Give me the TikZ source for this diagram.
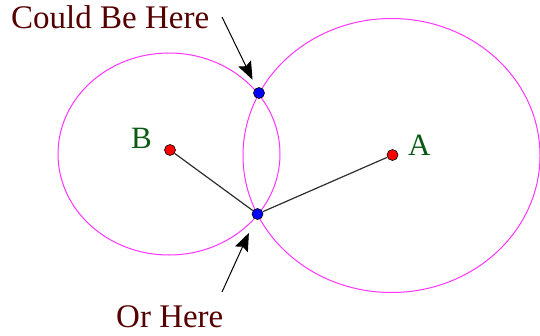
\documentclass[tikz,border=0pt]{standalone}
\usepackage{fontspec}
\setmainfont{Liberation Serif}
\usetikzlibrary{arrows.meta}
\definecolor{ringmag}{HTML}{FF33FF}
\definecolor{spokegray}{HTML}{2E2E2E}
\definecolor{maroon}{HTML}{550000}
\definecolor{dkgreen}{HTML}{0A5A14}

\begin{document}
\begin{tikzpicture}[x=1pt, y=-1pt,
  ring/.style={draw=ringmag, line width=1pt},
  ctr/.style={circle, draw=black, line width=0.6pt, fill=red,
    minimum size=11pt, inner sep=0pt},
  hit/.style={ctr, fill=blue},
  spoke/.style={draw=spokegray, line width=1.2pt},
  ptr/.style={draw=black, line width=1pt,
    -{Stealth[length=18pt, width=14pt, inset=3pt]}},
  note/.style={font=\fontsize{33}{40}\selectfont, text=maroon,
    inner sep=0pt, anchor=base west},
  lbl/.style={font=\fontsize{31}{36}\selectfont, text=dkgreen,
    inner sep=0pt, anchor=base west},
]
\useasboundingbox (0,0) rectangle (540,335);

% Circles (drawn a little flattened)
\draw[ring] (169,154) ellipse [x radius=111, y radius=101];
\draw[ring] (391.5,155.5) ellipse [x radius=148.5, y radius=137];

% Centres and crossing points
\node[ctr] (B) at (170,150) {};
\node[ctr] (A) at (392.5,155) {};
\node[hit] (P) at (259,93) {};
\node[hit] (Q) at (257.5,214) {};

% Spokes
\draw[spoke] (B) -- (Q);
\draw[spoke] (A) -- (Q);

% Labels
\node[lbl] (labB) at (131,148) {B};
\node[lbl] (labA) at (408,155) {A};
\node[note] (up) at (11,28) {Could Be Here};
\node[note] (down) at (116,327) {Or Here};

% Pointers
\coordinate (upstart) at (222,17);
\coordinate (downstart) at (222,292);
\draw[ptr, shorten >=9pt] (upstart) -- (P);
\draw[ptr, shorten >=15pt] (downstart) -- (Q);

\end{tikzpicture}
\end{document}
